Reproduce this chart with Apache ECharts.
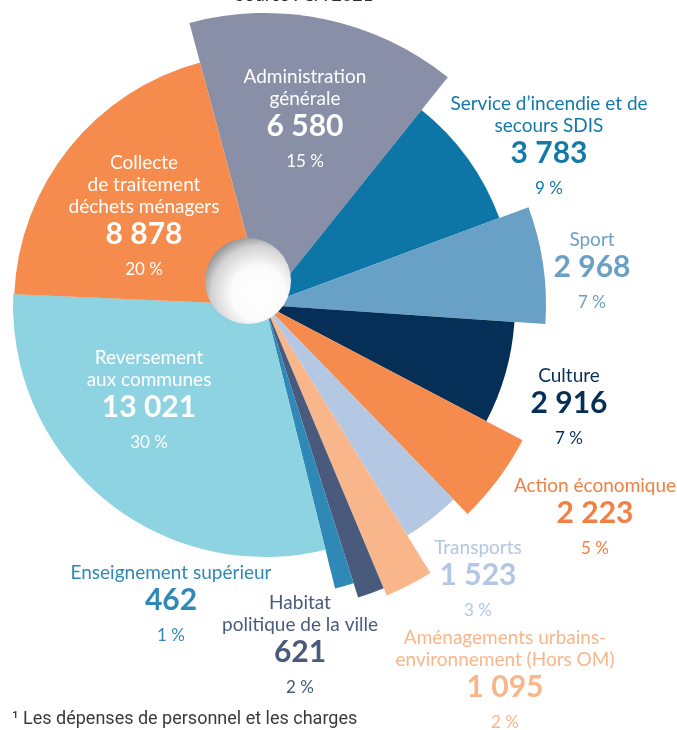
<!DOCTYPE html>
<html>
<head>
<meta charset="utf-8">
<script src="https://cdn.jsdelivr.net/npm/echarts@6/dist/echarts.min.js"></script>
<style>
  html, body { margin: 0; padding: 0; background: #fff; }
  #main { width: 677px; height: 730px; }
</style>
</head>
<body>
<div id="main"></div>
<script>
// dépenses par fonction (k€)
var names = [
  'Administration\ngénérale',
  'Service d’incendie et de\nsecours SDIS',
  'Sport',
  'Culture',
  'Action économique',
  'Transports',
  'Aménagements urbains-\nenvironnement (Hors OM)',
  'Habitat\npolitique de la ville',
  'Enseignement supérieur',
  'Reversement\naux communes',
  'Collecte\nde traitement\ndéchets ménagers'
];
var values = [6580, 3783, 2968, 2916, 2223, 1523, 1095, 621, 462, 13021, 8878];
var pcts = ['15 %', '9 %', '7 %', '7 %', '5 %', '3 %', '2 %', '2 %', '1 %', '30 %', '20 %'];

// styles
var colors = ['#8a8fa8', '#0d76a7', '#68a0c6', '#062f58', '#f58b4c', '#b4c8e4',
              '#f9b68b', '#4a5a7c', '#2f88b5', '#8dd3e1', '#f58b4c'];
var textColors = ['#ffffff', '#1279aa', '#6a9fc6', '#062f58', '#f08043', '#b3c6e3',
                  '#f9b68b', '#4a5a7c', '#2f88b5', '#ffffff', '#ffffff'];
var outerR = [292, 250, 281, 250, 291, 271, 315, 307, 292, 252, 251];
var labelPos = [[305, 77], [549, 104], [592, 240], [569, 376], [595, 486], [478, 548],
                [505, 638], [300, 603], [171, 573], [149, 358], [144, 163]];

var center = [265, 305];

function fmt(v) {
  return String(v).replace(/\B(?=(\d{3})+(?!\d))/g, ' ');
}

var myChart = echarts.init(document.getElementById('main'));

// une série par secteur pour avoir un rayon différent par part
var series = values.map(function (v, i) {
  return {
    type: 'pie',
    center: center,
    radius: [0, outerR[i]],
    startAngle: 105,
    clockwise: true,
    silent: true,
    animation: false,
    label: { show: false },
    labelLine: { show: false },
    emphasis: { disabled: true },
    data: values.map(function (val, j) {
      return {
        name: names[j],
        value: val,
        itemStyle: { color: j === i ? colors[i] : 'rgba(0,0,0,0)' }
      };
    })
  };
});

var labels = names.map(function (n, i) {
  var txt = n.split('\n').map(function (l) { return '{n|' + l + '}'; }).join('\n') +
    '\n{v|' + fmt(values[i]) + '}\n{p|' + pcts[i] + '}';
  return {
    type: 'text',
    x: labelPos[i][0],
    y: labelPos[i][1] - 11,
    z: 120,
    silent: true,
    style: {
      text: txt,
      align: 'center',
      verticalAlign: 'top',
      fill: textColors[i],
      rich: {
        n: { fontFamily: 'Lato', fontSize: 19, lineHeight: 22, fill: textColors[i], align: 'center' },
        v: { fontFamily: 'Lato', fontSize: 30, fontWeight: 'bold', lineHeight: 33, fill: textColors[i], align: 'center' },
        p: { fontFamily: 'Lato', fontSize: 17, lineHeight: 37, fill: textColors[i], align: 'center' }
      }
    }
  };
});

myChart.setOption({
  backgroundColor: '#ffffff',
  animation: false,
  series: series,
  graphic: [
    {
      type: 'circle',
      z: 100,
      silent: true,
      shape: { cx: 248, cy: 281, r: 43 },
      style: {
        fill: new echarts.graphic.RadialGradient(0.62, 0.64, 0.7, [
          { offset: 0, color: '#ffffff' },
          { offset: 0.45, color: '#fbfbfb' },
          { offset: 0.78, color: '#d2d2d2' },
          { offset: 1, color: '#8a8a8a' }
        ])
      }
    },
    {
      type: 'text',
      x: 304,
      y: -5,
      z: 120,
      style: {
        text: 'Source : CA 2021',
        align: 'center',
        verticalAlign: 'middle',
        fontFamily: 'Lato',
        fontSize: 18,
        fill: '#2b2b2b'
      }
    },
    {
      type: 'text',
      x: 12,
      y: 719,
      z: 120,
      style: {
        text: '¹ Les dépenses de personnel et les charges',
        align: 'left',
        verticalAlign: 'middle',
        fontFamily: 'Roboto',
        fontSize: 18,
        fill: '#3a3a3a'
      }
    }
  ].concat(labels)
});

window.addEventListener('resize', function () {
  myChart.resize();
});
</script>
</body>
</html>
